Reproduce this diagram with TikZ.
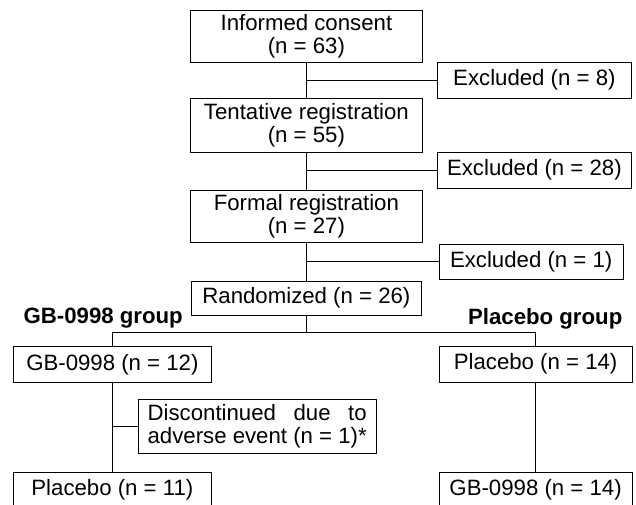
\documentclass[tikz,border=0pt]{standalone}
\usepackage{fontspec}
\setmainfont{Liberation Sans}
\usepackage{tikz}
\usetikzlibrary{calc}
\newlength{\disclen}

\begin{document}
\begin{tikzpicture}[
    box/.style={draw, line width=0.7pt,
                minimum width=4.83cm, minimum height=0.9cm,
                inner sep=2pt, align=center,
                font=\fontsize{15.8}{16.4}\selectfont},
    mainbox/.style={box, minimum width=5.78cm, minimum height=1.3cm},
    conn/.style={line width=0.7pt},
    grp/.style={font=\fontsize{15.8}{16.4}\selectfont\bfseries}
  ]
    \useasboundingbox (0,0) rectangle (15.9,-12.6);

    % Enrolment column
    \node[mainbox] (consent) at (7.66,-0.91) {Informed consent\\(n = 63)};
    \node[mainbox, minimum height=1.35cm] (tent) at (7.66,-3.13) {Tentative registration\\(n = 55)};
    \node[mainbox] (formal) at (7.66,-5.41) {Formal registration\\(n = 27)};
    \node[box, minimum width=5.73cm, minimum height=0.85cm] (rand) at (7.66,-7.45) {Randomized (n = 26)};

    % Exclusions
    \node[box] (ex1) at (13.36,-2.0)  {Excluded (n = 8)};
    \node[box] (ex2) at (13.36,-4.25) {Excluded (n = 28)};
    \node[box, minimum width=4.6cm, minimum height=0.88cm] (ex3) at (13.28,-6.54) {Excluded (n = 1)};

    % Group labels
    \node[grp] (glab) at (2.58,-7.95)  {GB-0998 group};
    \node[grp] (plab) at (13.63,-7.98) {Placebo group};
    \coordinate (split) at (7.66,-8.3);

    % Treatment arms
    \node[box, minimum width=4.93cm, minimum height=0.88cm] (gb12) at (2.81,-9.11) {GB-0998 (n = 12)};
    \node[box] (pl14) at (13.39,-9.1) {Placebo (n = 14)};
    \node[box, minimum width=5.95cm, minimum height=1.35cm, align=left] (disc) at (6.43,-10.65)
      {\settowidth{\disclen}{adverse event (n = 1)*}\makebox[\disclen][s]{Discontinued due to}\\adverse event (n = 1)*};
    \node[box, minimum width=4.93cm] (pl11) at (2.81,-12.25) {Placebo (n = 11)};
    \node[box] (gb14) at (13.39,-12.25) {GB-0998 (n = 14)};

    % Main flow
    \draw[conn] (consent) -- (tent);
    \draw[conn] (tent) -- (formal);
    \draw[conn] (formal) -- (rand);
    \draw[conn] (consent.south |- ex1.west) -- (ex1.west);
    \draw[conn] (tent.south |- ex2.west) -- (ex2.west);
    \draw[conn] (formal.south |- ex3.west) -- (ex3.west);

    % Split into arms
    \draw[conn] (rand.south) -- (split);
    \draw[conn] (gb12.north) |- (split) -| (pl14.north);
    \draw[conn] (gb12) -- (pl11);
    \draw[conn] (gb12.south |- disc.west) -- (disc.west);
    \draw[conn] (pl14) -- (gb14);
\end{tikzpicture}
\end{document}
